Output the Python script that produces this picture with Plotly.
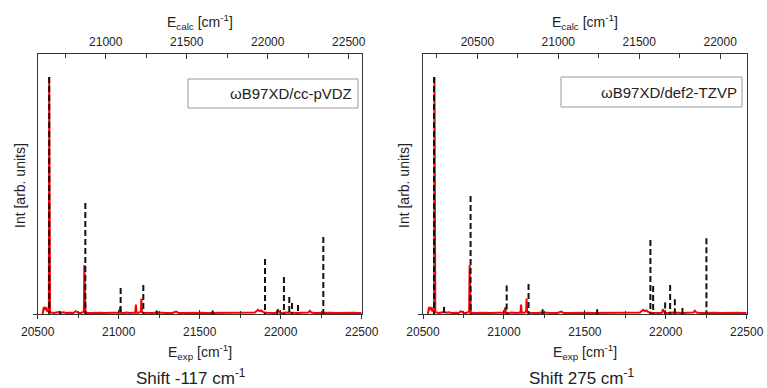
import plotly.graph_objects as go

# ---------------- data ----------------
# experimental spectrum (shared by both panels), E_exp [cm-1] vs intensity
exp_x = [20530, 20534, 20538, 20542, 20546, 20550, 20554, 20558, 20562, 20566, 20569, 20571, 20573, 20576,
         20585, 20600, 20615, 20630, 20645, 20660, 20675, 20690, 20705, 20720, 20735, 20750, 20765, 20780,
         20785, 20788, 20791, 20795, 20810, 20830, 20850, 20870, 20890, 20910, 20930, 20950, 20970, 20990,
         21004, 21008, 21012, 21030, 21050, 21070, 21090, 21102, 21106, 21110, 21125, 21137, 21140, 21143,
         21150, 21170, 21190, 21210, 21230, 21250, 21270, 21290, 21310, 21330, 21355, 21370, 21390, 21420,
         21450, 21480, 21510, 21540, 21570, 21600, 21630, 21660, 21690, 21720, 21750, 21780, 21810, 21840,
         21850, 21860, 21870, 21880, 21890, 21900, 21915, 21930, 21950, 21965, 21978, 21982, 21995, 22010,
         22030, 22050, 22070, 22090, 22110, 22130, 22150, 22170, 22180, 22190, 22210, 22240, 22270, 22300,
         22330, 22360, 22390, 22420, 22450, 22480, 22500]
exp_y = [0.0, 0.02, 0.03, 0.015, 0.03, 0.02, 0.028, 0.01, 0.018, 0.008, 0.02, 1.0, 0.03, 0.008,
         0.006, 0.004, 0.006, 0.008, 0.005, 0.007, 0.004, 0.006, 0.005, 0.004, 0.012, 0.005, 0.004, 0.008,
         0.012, 0.207, 0.03, 0.006, 0.004, 0.005, 0.004, 0.004, 0.005, 0.004, 0.004, 0.005, 0.004, 0.005,
         0.006, 0.028, 0.005, 0.004, 0.006, 0.004, 0.005, 0.006, 0.04, 0.006, 0.005, 0.01, 0.065, 0.01,
         0.005, 0.004, 0.005, 0.004, 0.006, 0.004, 0.005, 0.004, 0.005, 0.004, 0.01, 0.004, 0.004, 0.005,
         0.004, 0.004, 0.005, 0.004, 0.004, 0.005, 0.004, 0.004, 0.005, 0.004, 0.004, 0.005, 0.005, 0.006,
         0.012, 0.018, 0.012, 0.015, 0.009, 0.006, 0.005, 0.004, 0.005, 0.004, 0.006, 0.02, 0.005, 0.004,
         0.006, 0.005, 0.004, 0.005, 0.004, 0.005, 0.004, 0.006, 0.014, 0.006, 0.004, 0.005, 0.004, 0.005,
         0.004, 0.005, 0.004, 0.004, 0.005, 0.004, 0.004]

# calculated stick spectra (already shifted to E_exp)
calc_left_x = [20571, 20638, 20794, 21012, 21152, 21235, 21580, 21903, 21979, 22020, 22053, 22070, 22107, 22263]
calc_left_y = [1.0, 0.012, 0.468, 0.11, 0.122, 0.015, 0.015, 0.232, 0.015, 0.156, 0.072, 0.046, 0.038, 0.325]
calc_right_x = [20568, 20630, 20794, 21017, 21152, 21239, 21576, 21905, 21922, 21996, 22027, 22056, 22103, 22251]
calc_right_y = [1.0, 0.03, 0.498, 0.12, 0.127, 0.02, 0.02, 0.312, 0.118, 0.048, 0.122, 0.062, 0.025, 0.32]

exp_range = [20500, 22500]
calc_range_left = [20580, 22580]
calc_range_right = [20164, 22164]
x_ticks = [20500, 21000, 21500, 22000, 22500]

labels_left = "\u03c9B97XD/cc-pVDZ"
labels_right = "\u03c9B97XD/def2-TZVP"
shift_left = "Shift -117 cm<sup>-1</sup>"
shift_right = "Shift 275 cm<sup>-1</sup>"

# ---------------- figure ----------------
W, H = 767, 388
FONT = "Liberation Sans, Arial, sans-serif"
AX = "#333333"
TXT = "#222222"


def px(x):
    return x / W


def py(y):
    return 1 - y / H


def sticks(xs, ys):
    sx, sy = [], []
    for x, y in zip(xs, ys):
        sx += [x, x, None]
        sy += [y, 0, None]
    return sx, sy


fig = go.Figure()

panels = [
    dict(x="x", y="y", top="x2", inner="x3", calc=(calc_left_x, calc_left_y)),
    dict(x="x4", y="y2", top="x5", inner="x6", calc=(calc_right_x, calc_right_y)),
]
for p in panels:
    fig.add_trace(go.Scatter(x=exp_x, y=exp_y, mode="lines", line=dict(color="#ff0000", width=2),
                             xaxis=p["x"], yaxis=p["y"], showlegend=False, hoverinfo="skip"))
    sx, sy = sticks(*p["calc"])
    fig.add_trace(go.Scatter(x=sx, y=sy, mode="lines", line=dict(color="#111111", width=2, dash="6px,3px"),
                             xaxis=p["x"], yaxis=p["y"], showlegend=False, hoverinfo="skip"))
    for ax in (p["top"], p["inner"]):
        fig.add_trace(go.Scatter(x=[None], y=[None], xaxis=ax, yaxis=p["y"], showlegend=False,
                                 hoverinfo="skip"))

ydom = [py(314), py(54)]
yrange = [0, 1.097]


def xbottom(dom, anchor):
    return dict(domain=dom, range=exp_range, anchor=anchor, showline=True, linecolor=AX, linewidth=1,
                mirror=True, ticks="outside", ticklen=4, tickwidth=1, tickcolor=AX,
                tickvals=x_ticks, ticktext=[str(v) for v in x_ticks], automargin=False,
                minor=dict(dtick=250, tick0=0, ticks="outside", ticklen=3, tickcolor=AX, showgrid=False),
                showgrid=False, zeroline=False, tickfont=dict(size=12, color=TXT, family=FONT),
                ticklabelstandoff=3)


def xinner(main):
    return dict(overlaying=main, anchor="y" if main == "x" else "y2", side="bottom", range=exp_range,
                ticks="inside", ticklen=4, tickwidth=1, tickcolor=AX, dtick=500, tick0=0, automargin=False,
                minor=dict(dtick=250, tick0=0, ticks="inside", ticklen=3, tickcolor=AX, showgrid=False),
                showticklabels=False, showline=False, showgrid=False, zeroline=False)


def xtop(main, rng):
    return dict(overlaying=main, anchor="y" if main == "x" else "y2", side="top", range=rng,
                ticks="inside", ticklen=5, tickwidth=1, tickcolor=AX, dtick=500, tick0=0, automargin=False,
                tickformat="d", ticklabelstandoff=5,
                minor=dict(dtick=250, tick0=0, ticks="inside", ticklen=4, tickcolor=AX, showgrid=False),
                showline=False, showgrid=False, zeroline=False,
                tickfont=dict(size=12, color=TXT, family=FONT))


def yax(anchor):
    return dict(domain=ydom, range=yrange, anchor=anchor, showline=True, linecolor=AX, linewidth=1,
                mirror=True, ticks="outside", ticklen=4, tickcolor=AX, tickvals=[0], automargin=False,
                showticklabels=False, showgrid=False, zeroline=False)


fig.update_layout(
    template="none",
    width=W, height=H, margin=dict(l=0, r=0, t=0, b=0, autoexpand=False),
    paper_bgcolor="white", plot_bgcolor="white", showlegend=False,
    font=dict(family=FONT, color=TXT),
    xaxis=xbottom([px(37.7), px(361.7)], "y"),
    xaxis2=xtop("x", calc_range_left),
    xaxis3=xinner("x"),
    yaxis=yax("x"),
    xaxis4=xbottom([px(423), px(746.7)], "y2"),
    xaxis5=xtop("x4", calc_range_right),
    xaxis6=xinner("x4"),
    yaxis2=yax("x4"),
)

ann = []
shapes = []


def note(x, y, text, size, **kw):
    d = dict(x=px(x), y=py(y), xref="paper", yref="paper", showarrow=False, text=text,
             xanchor="center", yanchor="middle", font=dict(size=size, color=TXT, family=FONT))
    d.update(kw)
    return d


for cx, ytitle_x, legtxt, box, legx, shift, shift_x in [
    (199.7, 20, labels_left, (188, 79, 358, 108), 354, shift_left, 191),
    (585, 404, labels_right, (561, 77, 742, 107), 739, shift_right, 581),
]:
    ann.append(note(cx, 22, "E<sub>calc</sub> [cm<sup>-1</sup>]", 14))
    ann.append(note(cx, 352, "E<sub>exp</sub> [cm<sup>-1</sup>]", 14))
    ann.append(note(shift_x, 377, shift, 17))
    ann.append(note(ytitle_x, 186, "Int [arb. units]", 14, textangle=-90))
    ann.append(note(legx, (box[1] + box[3]) / 2, legtxt, 15, xanchor="right"))
    shapes.append(dict(type="rect", xref="paper", yref="paper", x0=px(box[0]), x1=px(box[2]),
                       y0=py(box[3]), y1=py(box[1]), line=dict(color="#999999", width=1),
                       fillcolor="white", layer="below"))

fig.update_layout(annotations=ann, shapes=shapes)
fig.write_html("out.html")
